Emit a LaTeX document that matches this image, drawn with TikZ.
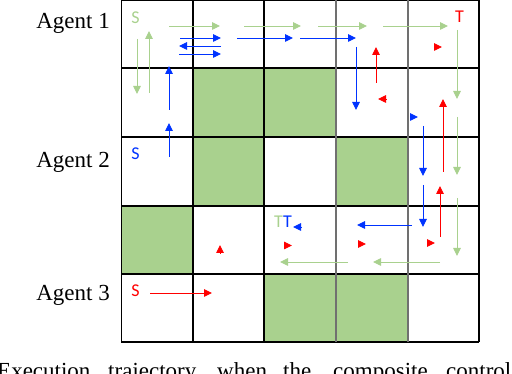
\documentclass[tikz,border=0pt]{standalone}
\usepackage{fontspec}
\setmainfont{Liberation Serif}
\newfontfamily\carlitofont{Carlito}
\usetikzlibrary{arrows.meta}
\definecolor{gr}{HTML}{A9D18E}
\definecolor{bl}{HTML}{0033FF}
\definecolor{rd}{HTML}{FF0000}
\definecolor{gline}{HTML}{707070}
\tikzset{
  tr/.style={line width=0.9pt,-{Triangle[length=8pt,width=7.5pt]}},
  gtr/.style={tr,gr},
  btr/.style={tr,bl},
  rtr/.style={tr,rd},
  lbl/.style={font=\fontsize{23}{23}\selectfont,anchor=base east,inner sep=0pt},
  captxt/.style={font=\fontsize{23}{23}\selectfont,anchor=base west,inner sep=0pt},
  mk/.style={font=\carlitofont\fontsize{18}{18}\selectfont,anchor=base,inner sep=0pt},
}
\begin{document}
\begin{tikzpicture}[x=1pt,y=-1pt]
\useasboundingbox (0,0) rectangle (512,374);
% green cells
\fill[gr] (193,68) rectangle (264,137);
\fill[gr] (264,68) rectangle (336,137);
\fill[gr] (193,137) rectangle (264,206);
\fill[gr] (336,137) rectangle (408,206);
\fill[gr] (121,206) rectangle (193,274);
\fill[gr] (264,274) rectangle (336,342);
\fill[gr] (336,274) rectangle (408,342);
% grid lines
\foreach \y in {0.8,68,137,206,274,342}
  \draw[black,line width=1.2pt] (121,\y) -- (479,\y);
\draw[black,line width=1pt] (121,0) -- (121,342);
\draw[black,line width=1.6pt] (193,0) -- (193,342);
\draw[black,line width=1.3pt] (264,0) -- (264,342);
\draw[gline,line width=1.6pt] (336,0) -- (336,342);
\draw[gline,line width=1.6pt] (408,0) -- (408,342);
\draw[black,line width=1.3pt] (479,0) -- (479,342);
% agent labels
\node[lbl] (a1) at (110,29) {Agent 1};
\node[lbl] (a2) at (110,168) {Agent 2};
\node[lbl] (a3) at (110,301) {Agent 3};
% start / target marks
\node[mk,text=gr] (s1) at (135.5,24) {S};
\node[mk,text=rd] (t3) at (459.5,23) {T};
\node[mk,text=bl] (s2) at (135.5,160) {S};
\node[mk,text=rd] (s3) at (135.5,297) {S};
\node[mk,text=gr] (t1) at (278.5,228) {T};
\node[mk,text=bl] (t2) at (287.5,228) {T};
% green trajectory
\draw[gtr] (137,39) -- (137,94);
\draw[gtr] (149,93) -- (149,31);
\draw[gtr] (169,26) -- (220,26);
\draw[gtr] (244,26) -- (301,26);
\draw[gtr] (318,26) -- (367,26);
\draw[gtr] (383,26) -- (448,26);
\draw[gtr] (457,30) -- (457,99);
\draw[gtr] (457,117) -- (457,175);
\draw[gtr] (457,198) -- (457,256);
\draw[gtr] (440,262) -- (373,262);
\draw[gtr] (348,262) -- (280,262);
% blue trajectory
\draw[btr] (169,157) -- (169,123);
\draw[btr] (169,110) -- (169,66);
\draw[btr] (180,38) -- (221,38);
\draw[btr] (237,38) -- (293,38);
\draw[btr] (300,38) -- (356,38);
\draw[btr] (221,46) -- (179,46);
\draw[btr] (179,54) -- (221,54);
\draw[btr] (356,47) -- (356,110);
\draw[btr] (423,126) -- (423,176);
\draw[btr] (423,185) -- (423,227);
\draw[btr] (412,225) -- (357,225);
\draw[btr] (410,117) -- (418,117);
\draw[btr] (301,227) -- (293,227);
% red trajectory
\draw[rtr] (150,293) -- (212,293);
\draw[rtr] (376,83) -- (376,47);
\draw[rtr] (440,237) -- (440,186);
\draw[rtr] (443,172) -- (443,99);
\draw[rtr] (220,253) -- (220,245);
\draw[rtr] (284,245.5) -- (292,245.5);
\draw[rtr] (358,244) -- (366,244);
\draw[rtr] (427,243) -- (435,243);
\draw[rtr] (434,47) -- (442,47);
\draw[rtr] (386,99) -- (378,99);
% caption (cut off by the picture's edge, as in the reference)
\node[captxt] (c1) at (-3,378) {Execution};
\node[captxt] (c2) at (108,378) {trajectory};
\node[captxt] (c3) at (217,378) {when};
\node[captxt] (c4) at (283,378) {the};
\node[captxt] (c5) at (333,378) {composite};
\node[captxt] (c6) at (446,378) {control};
\end{tikzpicture}
\end{document}
